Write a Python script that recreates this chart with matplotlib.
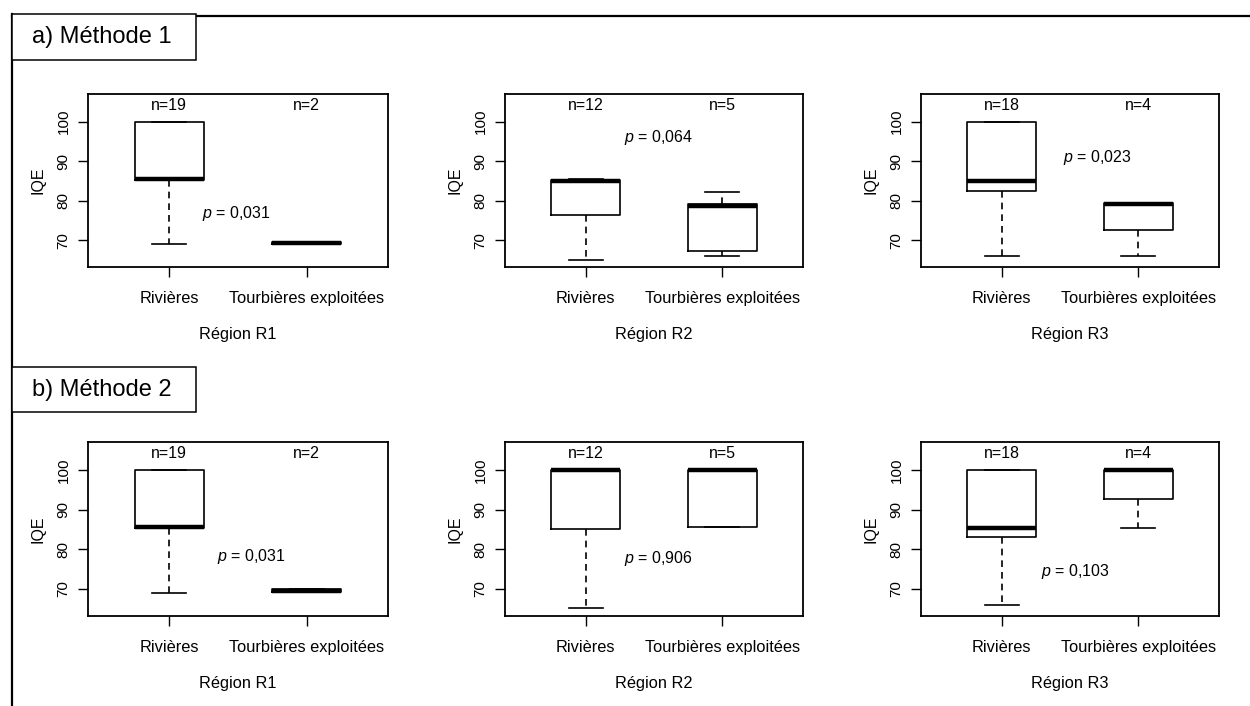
import matplotlib
matplotlib.use("Agg")
import matplotlib.pyplot as plt
from matplotlib.lines import Line2D
from matplotlib.patches import Rectangle

plt.rcParams['font.family'] = ['Liberation Sans', 'DejaVu Sans']
plt.rcParams['mathtext.fontset'] = 'custom'
plt.rcParams['mathtext.it'] = 'Liberation Sans:italic'
plt.rcParams['mathtext.rm'] = 'Liberation Sans'

# ---------------- data ----------------
regions = ["Région R1", "Région R2", "Région R3"]
groups = ["Rivières", "Tourbières exploitées"]
n_counts = [[19, 2], [12, 5], [18, 4]]
methods = ["a) Méthode 1", "b) Méthode 2"]

# Méthode 1 : [Rivières, Tourbières] per region
m1_whislo = [[69.0, 69.0], [65.0, 66.0], [66.0, 66.0]]
m1_q1     = [[85.2, 68.9], [76.3, 67.2], [82.5, 72.5]]
m1_med    = [[85.5, 69.2], [85.0, 78.7], [84.9, 79.1]]
m1_q3     = [[100.0, 69.5], [85.2, 79.2], [100.0, 79.4]]
m1_whishi = [[100.0, 69.5], [85.6, 82.2], [100.0, 79.4]]
m1_pvals  = ["0,031", "0,064", "0,023"]

# Méthode 2
m2_whislo = [[69.0, 69.2], [65.2, 85.7], [66.0, 85.3]]
m2_q1     = [[85.3, 69.2], [85.2, 85.7], [83.0, 92.7]]
m2_med    = [[85.6, 69.6], [100.0, 100.0], [85.3, 100.0]]
m2_q3     = [[100.0, 69.9], [100.0, 100.0], [100.0, 100.0]]
m2_whishi = [[100.0, 69.9], [100.0, 100.0], [100.0, 100.0]]
m2_pvals  = ["0,031", "0,906", "0,103"]

yticks = [70, 80, 90, 100]

# ---------------- layout ----------------
W, H = 1250, 706
fig = plt.figure(figsize=(W / 100, H / 100), dpi=100)
fig.patch.set_facecolor('white')

col_x = [(88, 388), (505, 803), (921, 1219)]
row_y = [(94, 267), (442, 616)]
p_pos = [[(1.235, 76.8), (1.28, 95.9), (1.45, 90.8)],
         [(1.35, 78.2), (1.28, 77.7), (1.29, 74.5)]]

method_data = [
    (m1_whislo, m1_q1, m1_med, m1_q3, m1_whishi, m1_pvals),
    (m2_whislo, m2_q1, m2_med, m2_q3, m2_whishi, m2_pvals),
]

def px_rect(x0, x1, y0, y1):
    return [x0 / W, 1 - y1 / H, (x1 - x0) / W, (y1 - y0) / H]

for r, (wlo, q1, med, q3, whi, pv) in enumerate(method_data):
    y0, y1 = row_y[r]
    for c in range(3):
        x0, x1 = col_x[c]
        ax = fig.add_axes(px_rect(x0, x1, y0, y1))
        stats = []
        for g in range(2):
            stats.append(dict(whislo=wlo[c][g], q1=q1[c][g], med=med[c][g],
                              q3=q3[c][g], whishi=whi[c][g], fliers=[]))
        ax.bxp(stats, positions=[1, 2], widths=0.5, showfliers=False,
               patch_artist=False,
               boxprops=dict(color='black', linewidth=1.2),
               medianprops=dict(color='black', linewidth=3.2, solid_capstyle='butt'),
               whiskerprops=dict(color='black', linewidth=1.2, linestyle=(0, (4, 3))),
               capprops=dict(color='black', linewidth=1.2),
               capwidths=0.25)
        ax.set_xlim(0.41, 2.59)
        ax.set_ylim(63.2, 107.0)
        ax.set_yticks(yticks)
        ax.set_yticklabels([str(t) for t in yticks], rotation=90, va='center',
                           fontsize=11)
        ax.set_xticks([1, 2])
        ax.set_xticklabels(groups, fontsize=11.8)
        ax.tick_params(axis='both', direction='out', length=7.5, width=1.0,
                       color='black')
        ax.tick_params(axis='y', pad=5)
        ax.tick_params(axis='x', pad=10)
        for s in ax.spines.values():
            s.set_linewidth(1.3)
        ax.set_ylabel("IQE", fontsize=11.5, labelpad=8)
        ax.set_xlabel(regions[c], fontsize=11.8, labelpad=15)
        for g in range(2):
            ax.text(g + 1, 104.2, f"n={n_counts[c][g]}", ha='center', va='center',
                    fontsize=11.5)
        px, py = p_pos[r][c]
        ax.text(px, py, r"$\it{p}$ = " + pv[c], ha='left', va='center', fontsize=11.5)

# ---------------- outer frame & labels ----------------
fig.add_artist(Line2D([11.5 / W, 1.0], [1 - 16 / H, 1 - 16 / H], color='black',
                      linewidth=1.6, transform=fig.transFigure))
fig.add_artist(Line2D([11.5 / W, 11.5 / W], [1 - 14 / H, 0.0], color='black',
                      linewidth=1.6, transform=fig.transFigure))

label_boxes = [(14, 60), (367, 412)]
for m, (by0, by1) in enumerate(label_boxes):
    fig.add_artist(Rectangle((12 / W, 1 - by1 / H), (196 - 12) / W, (by1 - by0) / H,
                             transform=fig.transFigure, facecolor='white',
                             edgecolor='black', linewidth=1.1, zorder=5))
    fig.text(32 / W, 1 - ((by0 + by1) / 2) / H, methods[m], ha='left', va='center',
             fontsize=17, zorder=6)

fig.savefig("out.png", dpi=100)
